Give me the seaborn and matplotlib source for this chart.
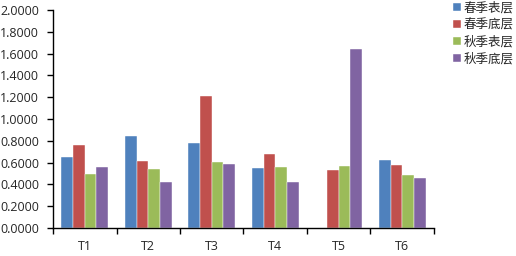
import matplotlib
matplotlib.use("Agg")
import matplotlib.pyplot as plt
import seaborn as sns
import numpy as np
import pandas as pd
from matplotlib.ticker import FormatStrFormatter, FixedLocator

categories = ["T1", "T2", "T3", "T4", "T5", "T6"]
series_names = ["春季表层", "春季底层", "秋季表层", "秋季底层"]
spring_surface = [0.649, 0.841, 0.783, 0.553, np.nan, 0.624]
spring_bottom = [0.759, 0.615, 1.211, 0.676, 0.532, 0.578]
autumn_surface = [0.495, 0.541, 0.608, 0.560, 0.566, 0.489]
autumn_bottom = [0.560, 0.425, 0.584, 0.425, 1.640, 0.459]
colors = ["#4F81BD", "#C0504D", "#9BBB59", "#8064A2"]

rows = []
for name, vals in zip(series_names, [spring_surface, spring_bottom, autumn_surface, autumn_bottom]):
    for c, v in zip(categories, vals):
        rows.append({"cat": c, "series": name, "value": v})
df = pd.DataFrame(rows)

sns.set_style("white")
plt.rcParams['font.family'] = ['Open Sans', 'Noto Sans CJK SC', 'DejaVu Sans']

fig = plt.figure(figsize=(5.16, 2.56), dpi=100)
ax = fig.add_axes([53/516, 1-228/256, (434-53)/516, (228-10)/256])

sns.barplot(data=df, x="cat", y="value", hue="series", hue_order=series_names,
            order=categories, palette=colors, width=0.74, ax=ax,
            saturation=1, edgecolor="white", linewidth=0.3, errorbar=None)

ax.set_ylim(0, 2.0)
ax.set_xlim(-0.5, 5.5)
ax.set_yticks(np.arange(0, 2.01, 0.2))
ax.yaxis.set_major_formatter(FormatStrFormatter('%.4f'))
ax.set_xlabel("")
ax.set_ylabel("")
for s in ["top", "right"]:
    ax.spines[s].set_visible(False)
for s in ["left", "bottom"]:
    ax.spines[s].set_color("black")
    ax.spines[s].set_linewidth(1.0)
ax.tick_params(axis='y', direction='out', length=4, width=1, color='black',
               labelsize=9, pad=6, left=True)
ax.tick_params(axis='x', which='major', length=0, labelsize=9, pad=9)
ax.xaxis.set_minor_locator(FixedLocator(np.arange(-0.5, 5.6, 1.0)))
ax.tick_params(axis='x', which='minor', direction='out', length=4, width=1,
               color='black', bottom=True)

handles, labels = ax.get_legend_handles_labels()
ax.get_legend().remove()
fig.legend(handles, labels, loc="upper left", bbox_to_anchor=(452/516, 1.0),
           frameon=False, prop={'family': ['Noto Sans CJK SC'], 'size': 9},
           handlelength=0.6, handleheight=0.6, handletextpad=0.25,
           labelspacing=0.32, borderaxespad=0, borderpad=0.1)

fig.savefig("out.png", dpi=100)
